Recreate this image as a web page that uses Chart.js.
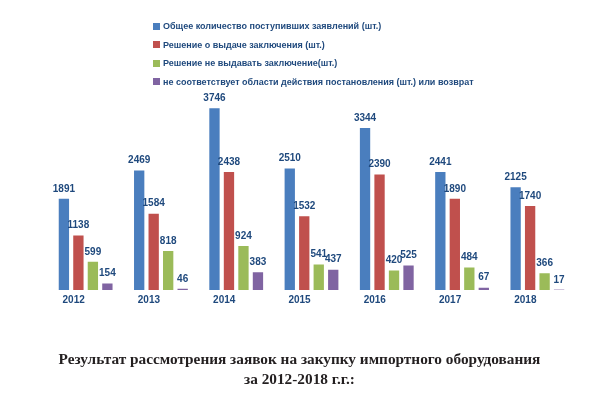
<!DOCTYPE html>
<html><head><meta charset="utf-8">
<script src="https://cdn.jsdelivr.net/npm/chart.js@4/dist/chart.umd.min.js"></script>
<style>
html,body{margin:0;padding:0;background:#fff;}
#wrap{position:relative;width:599px;height:398px;}
#legend{position:absolute;left:153px;top:17px;margin:0;padding:0;list-style:none;font:bold 9px "Liberation Sans",Arial,sans-serif;color:#1F497D;}
#legend li{height:18.5px;display:flex;align-items:center;white-space:nowrap;}
#legend .box{display:inline-block;width:7px;height:7px;margin-right:3px;}
#title{position:absolute;left:0;width:599px;top:349px;text-align:center;font:bold 15.3px "Liberation Serif","Times New Roman",serif;line-height:20px;color:#231F20;}
</style></head>
<body>
<div id="wrap">
<canvas id="c" width="599" height="398"></canvas>
<ul id="legend"></ul>
<div id="title"></div>
</div>
<script>
const categories = ['2012','2013','2014','2015','2016','2017','2018'];
const totalReceived = [1891, 2469, 3746, 2510, 3344, 2441, 2125];
const issued = [1138, 1584, 2438, 1532, 2390, 1890, 1740];
const refused = [599, 818, 924, 541, 420, 484, 366];
const outOfScope = [154, 46, 383, 437, 525, 67, 17];
const seriesNames = [
  'Общее количество поступивших заявлений (шт.)',
  'Решение о выдаче заключения (шт.)',
  'Решение не выдавать  заключение(шт.)',
  'не соответствует области  действия постановления (шт.) или возврат'
];
const seriesColors = ['#4A7EBE', '#C0504D', '#9BBB59', '#8064A2'];
const titleLines = ['Результат рассмотрения заявок на закупку импортного оборудования', 'за 2012-2018 г.г.:'];

const seriesData = [totalReceived, issued, refused, outOfScope];

const valueLabels = {
  id: 'valueLabels',
  afterDatasetsDraw(chart) {
    const ctx = chart.ctx;
    ctx.save();
    ctx.font = 'bold 10px "Liberation Sans", Arial, sans-serif';
    ctx.fillStyle = '#1F497D';
    ctx.textAlign = 'center';
    ctx.textBaseline = 'bottom';
    chart.data.datasets.forEach((ds, i) => {
      chart.getDatasetMeta(i).data.forEach((bar, j) => {
        ctx.fillText(String(ds.data[j]), bar.x, bar.y - 4);
      });
    });
    ctx.restore();
  }
};

const chart = new Chart(document.getElementById('c'), {
  type: 'bar',
  data: {
    labels: categories,
    datasets: seriesData.map((d, i) => ({
      label: seriesNames[i],
      data: d,
      backgroundColor: seriesColors[i],
      borderColor: 'rgba(255,255,255,0.5)',
      borderWidth: 1,
      categoryPercentage: 0.77,
      barPercentage: 0.85
    }))
  },
  options: {
    responsive: false,
    animation: false,
    layout: { padding: { top: 90, left: 48, right: 24, bottom: 88 } },
    plugins: {
      legend: { display: false },
      tooltip: { enabled: false },
      title: { display: false }
    },
    scales: {
      x: {
        grid: { display: false, drawTicks: false },
        border: { display: false },
        ticks: {
          color: '#1F497D',
          font: { family: '"Liberation Sans", Arial, sans-serif', size: 10, weight: 'bold' },
          padding: 4,
          labelOffset: -12
        }
      },
      y: { display: false, min: 0, max: 4100 }
    }
  },
  plugins: [valueLabels]
});

const legendEl = document.getElementById('legend');
chart.data.datasets.forEach(ds => {
  const li = document.createElement('li');
  const box = document.createElement('span');
  box.className = 'box';
  box.style.background = ds.backgroundColor;
  li.appendChild(box);
  li.appendChild(document.createTextNode(ds.label));
  legendEl.appendChild(li);
});
const titleEl = document.getElementById('title');
titleLines.forEach((t, i) => {
  if (i) titleEl.appendChild(document.createElement('br'));
  titleEl.appendChild(document.createTextNode(t));
});
</script>
</body></html>
